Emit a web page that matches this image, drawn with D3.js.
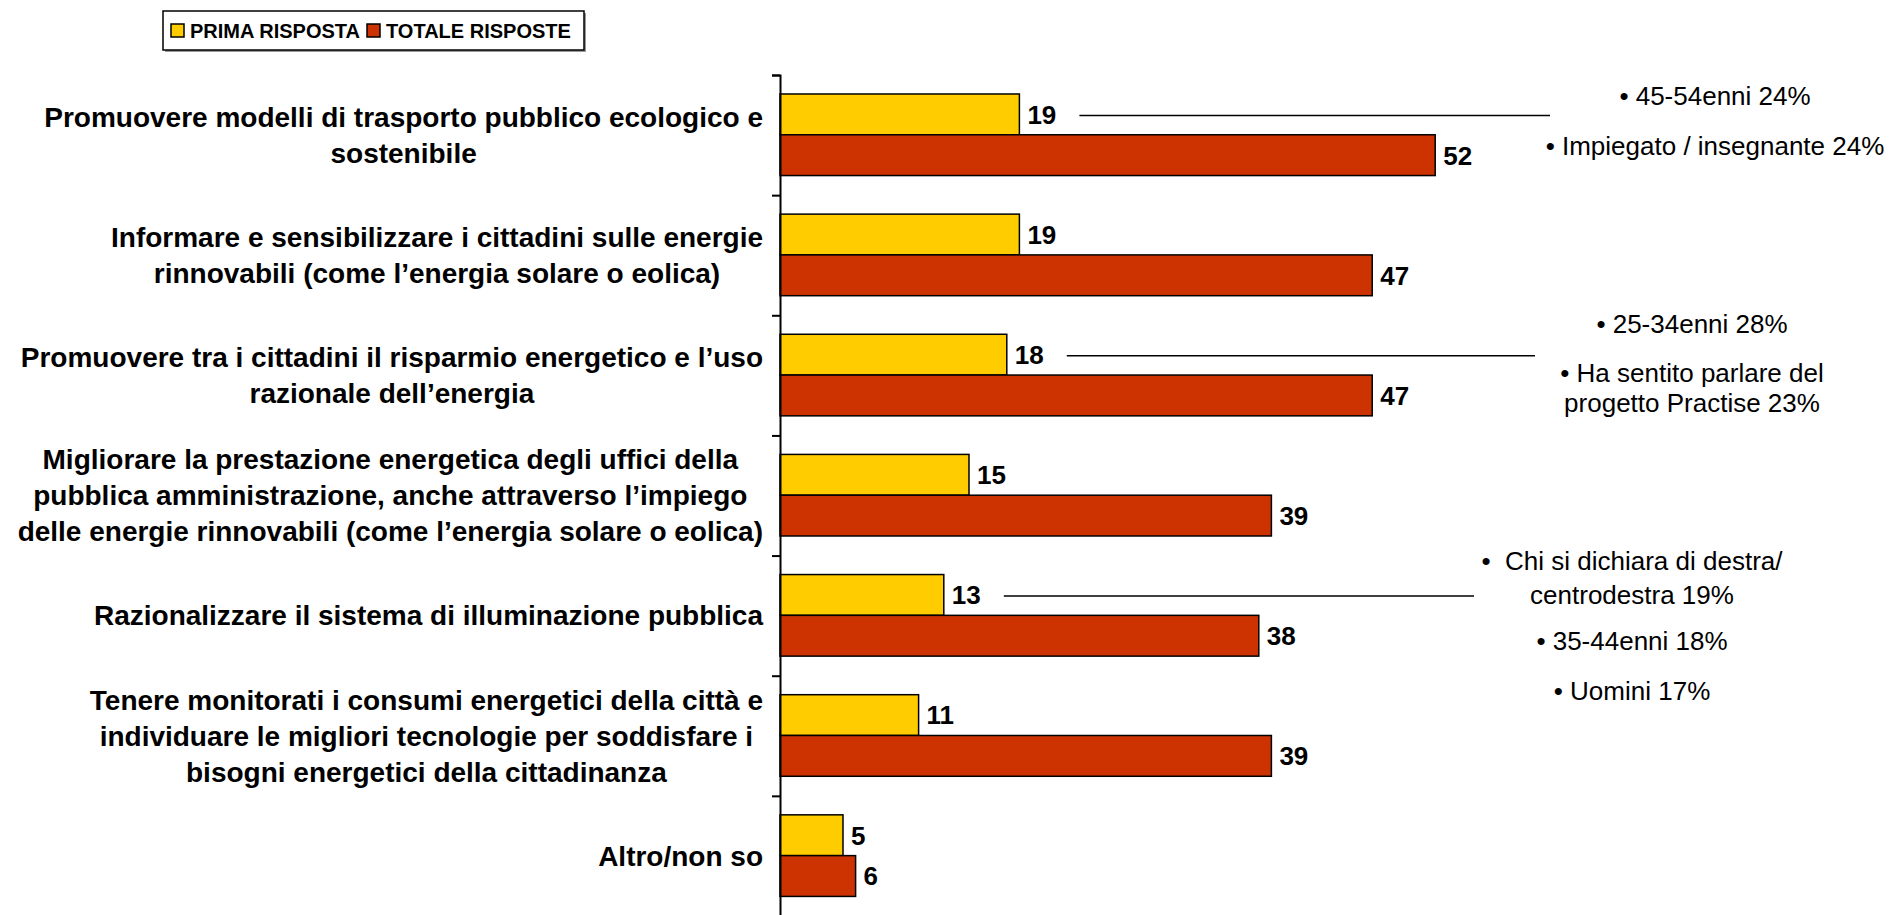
<!DOCTYPE html>
<html>
<head>
<meta charset="utf-8">
<script src="https://cdn.jsdelivr.net/npm/d3@7"></script>
<style>
	body { margin: 0; background: #fff; }
	svg { display: block; font-family: "Liberation Sans", Arial, sans-serif; }
</style>
</head>
<body>
<div id="chart"></div>
<script>
// Categories, one array of lines per label
const categories = [
	["Promuovere modelli di trasporto pubblico ecologico e", "sostenibile"],
	["Informare e sensibilizzare i cittadini sulle energie", "rinnovabili (come l’energia solare o eolica)"],
	["Promuovere tra i cittadini il risparmio energetico e l’uso", "razionale dell’energia"],
	["Migliorare la prestazione energetica degli uffici della", "pubblica amministrazione, anche attraverso l’impiego", "delle energie rinnovabili (come l’energia solare o eolica)"],
	["Razionalizzare il sistema di illuminazione pubblica"],
	["Tenere monitorati i consumi energetici della città e", "individuare le migliori tecnologie per soddisfare i", "bisogni energetici della cittadinanza"],
	["Altro/non so"]
];

const seriesNames = ["PRIMA RISPOSTA", "TOTALE RISPOSTE"];
const primaRisposta = [19, 19, 18, 15, 13, 11, 5];
const totaleRisposte = [52, 47, 47, 39, 38, 39, 6];

// Side notes: which row they point at and their text
const noteRows = [0, 2, 4];
const noteTexts = [
	["• 45-54enni 24%", "• Impiegato / insegnante 24%"],
	["• 25-34enni 28%", "• Ha sentito parlare del", "progetto Practise 23%"],
	["•  Chi si dichiara di destra/", "centrodestra 19%", "• 35-44enni 18%", "• Uomini 17%"]
];

// Layout of the notes (positions only)
const noteLayout = [
	{lineEnd: 1550, cx: 1715, baselines: [105, 155]},
	{lineEnd: 1535, cx: 1692, baselines: [333, 382, 412]},
	{lineEnd: 1474, cx: 1632, baselines: [570, 604, 650, 700]}
];

const colors = ["#FFCC00", "#CC3300"];

let full_width = 1890;
let full_height = 915;
let axisX = 780;
let plotTop = 75;
let plotBottom = 916;

let svg = d3.select("#chart")
	.append("svg")
		.attr("width", full_width)
		.attr("height", full_height);

let rows = categories.map((c, i) => ({i: i, lines: c, values: [primaRisposta[i], totaleRisposte[i]]}));

let x = d3.scaleLinear()
	.domain([0, 60])
	.range([axisX, axisX + 756]);

let y = d3.scaleBand()
	.domain(d3.range(categories.length))
	.range([plotTop, plotBottom]);

let bw = y.bandwidth();
let sub = d3.scaleBand()
	.domain([0, 1])
	.range([bw * 0.158, bw * 0.837]);

// Bars
let groups = svg.append("g")
	.selectAll("g")
	.data(rows)
	.enter()
	.append("g")
		.attr("transform", d => "translate(0," + y(d.i) + ")");

groups.selectAll("rect")
	.data(d => d.values.map((v, k) => ({v: v, k: k})))
	.enter()
	.append("rect")
		.attr("x", x(0))
		.attr("y", d => sub(d.k))
		.attr("width", d => x(d.v) - x(0))
		.attr("height", sub.bandwidth())
		.style("fill", d => colors[d.k])
		.style("stroke", "#000")
		.style("stroke-width", 1.5);

groups.selectAll(".val")
	.data(d => d.values.map((v, k) => ({v: v, k: k})))
	.enter()
	.append("text")
		.attr("class", "val")
		.attr("x", d => x(d.v) + 8)
		.attr("y", d => sub(d.k) + sub.bandwidth() / 2)
		.attr("dy", "0.36em")
		.attr("font-size", "26px")
		.attr("font-weight", "bold")
		.text(d => d.v);

// Axis with ticks between the categories
let yEdges = d3.scaleLinear()
	.domain([0, categories.length])
	.range([plotTop, plotBottom]);

svg.append("g")
	.attr("transform", "translate(" + axisX + ",0)")
	.call(d3.axisLeft(yEdges).ticks(categories.length).tickSize(8).tickFormat(""))
	.call(g => g.selectAll("path, line").attr("stroke", "#000").attr("stroke-width", 2));

// Category labels: block right aligned, lines centred inside it
let labelRight = 763;
let lineH = 36;
let labels = svg.append("g")
	.selectAll("g")
	.data(rows)
	.enter()
	.append("g")
		.attr("font-size", "28px")
		.attr("font-weight", "bold");

labels.each(function(d) {
	let g = d3.select(this);
	let cy = y(d.i) + bw / 2;
	let n = d.lines.length;
	let texts = g.selectAll("text")
		.data(d.lines)
		.enter()
		.append("text")
			.attr("text-anchor", "middle")
			.attr("y", (l, j) => cy + (j - (n - 1) / 2) * lineH)
			.attr("dy", "0.35em")
			.text(l => l);
	let maxW = d3.max(texts.nodes(), t => t.getComputedTextLength());
	texts.attr("x", labelRight - maxW / 2);
});

// Notes with connector lines
noteRows.forEach((r, k) => {
	let lay = noteLayout[k];
	let ly = y(r) + sub(0) + sub.bandwidth() / 2 + 1;
	svg.append("line")
		.attr("x1", x(primaRisposta[r]) + 60)
		.attr("x2", lay.lineEnd)
		.attr("y1", ly)
		.attr("y2", ly)
		.attr("stroke", "#000")
		.attr("stroke-width", 1.5);
	svg.append("g")
		.selectAll("text")
		.data(noteTexts[k])
		.enter()
		.append("text")
			.attr("x", lay.cx)
			.attr("y", (t, j) => lay.baselines[j])
			.attr("text-anchor", "middle")
			.attr("font-size", "26px")
			.style("white-space", "pre")
			.text(t => t);
});

// Legend
let legend = svg.append("g");
legend.append("rect")
	.attr("x", 165).attr("y", 13)
	.attr("width", 421).attr("height", 39)
	.style("fill", "#999");
legend.append("rect")
	.attr("x", 163).attr("y", 11)
	.attr("width", 421).attr("height", 39)
	.style("fill", "#fff")
	.style("stroke", "#000")
	.style("stroke-width", 1.5);

let legendX = [171, 367];
seriesNames.forEach((s, k) => {
	legend.append("rect")
		.attr("x", legendX[k]).attr("y", 24)
		.attr("width", 13).attr("height", 13)
		.style("fill", colors[k])
		.style("stroke", "#000")
		.style("stroke-width", 1.5);
	legend.append("text")
		.attr("x", legendX[k] + 19)
		.attr("y", 30.5)
		.attr("dy", "0.36em")
		.attr("font-size", "20px")
		.attr("font-weight", "bold")
		.text(s);
});
</script>
</body>
</html>
